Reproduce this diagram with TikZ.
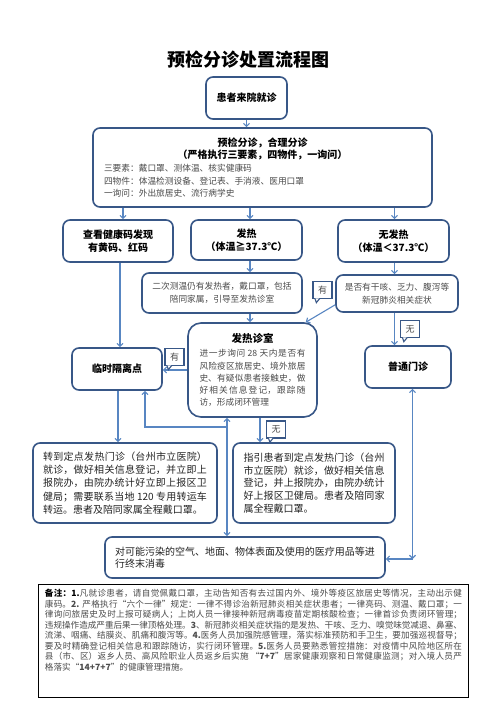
\documentclass[tikz,border=0pt]{standalone}
\usepackage{fontspec}
\setmainfont{Noto Sans CJK SC}
\usetikzlibrary{arrows.meta,calc}
\XeTeXlinebreaklocale "zh"
\XeTeXlinebreakskip=0pt plus 1.5pt minus 0.4pt
\definecolor{boxcol}{RGB}{56,87,135}
\definecolor{arrcol}{RGB}{88,134,194}
\definecolor{txtgray}{RGB}{75,75,75}
\definecolor{txtdark}{RGB}{35,35,35}
\newcommand\fbold{\fontsize{10}{12.6}\selectfont\bfseries}
\newcommand\fbody{\normalfont\fontsize{8.7}{12.6}\selectfont}
\newcommand\fmid{\fontsize{10}{13.3}\selectfont}
\tikzset{
 box/.style={draw=boxcol,line width=1.6pt,rounded corners=7pt,fill=white,inner sep=0pt,align=center},
 arr/.style={draw=arrcol,line width=1.1pt,-{Straight Barb[length=3pt,width=6pt]}},
 arrboth/.style={draw=arrcol,line width=1.1pt,{Straight Barb[length=3pt,width=6pt]}-{Straight Barb[length=3pt,width=6pt]}},
 ln/.style={draw=arrcol,line width=1.1pt},
 callout/.style={draw=boxcol,line width=1.3pt,fill=white,minimum width=19pt,minimum height=17pt,inner sep=0pt,font=\fontsize{9}{10}\selectfont,text=txtgray},
 tail/.style={fill=white,draw=boxcol,line width=1.1pt},
}
\newcommand\calltail[1]{\filldraw[tail] ($(#1.south west)+(2.5,-0.8)$) -- ($(#1.south west)+(4,3.5)$) -- ($(#1.south west)+(7.5,-0.8)$);}
\begin{document}
\begin{tikzpicture}[x=1pt,y=-1pt]
\fill[white] (0,0) rectangle (496,702);
\useasboundingbox (0,0) rectangle (496,702);

% x positions of connectors
\coordinate (xa) at (123,0);
\coordinate (xb) at (250,0);
\coordinate (xc) at (394.5,0);
\coordinate (xd) at (120,0);
\coordinate (xe) at (118,0);
\coordinate (xf) at (260,0);
\coordinate (xg) at (227,0);
\coordinate (xh) at (145,0);
\coordinate (xi) at (412.5,0);

\node[font=\fontsize{18}{20}\selectfont\bfseries] (title) at (248,60) {预检分诊处置流程图};

\node[box,minimum width=81pt,minimum height=42pt,font=\fbold] (A) at (246.5,98) {患者来院就诊};

\node[box,minimum width=339pt,minimum height=79pt,align=left,font=\fbold] (B) at (262.5,167.5)
 {\makebox[317pt][c]{\bfseries 预检分诊，合理分诊}\\
  \makebox[317pt][c]{\bfseries （严格执行三要素，四物件，一询问）}\\
  {\fbody\color{txtgray}三要素：戴口罩、测体温、核实健康码}\\
  {\fbody\color{txtgray}四物件：体温检测设备、登记表、手消液、医用口罩}\\
  {\fbody\color{txtgray}一询问：外出旅居史、流行病学史}};

\node[box,minimum width=110pt,minimum height=42pt,font=\fbold] (C) at (118,241) {查看健康码发现\\有黄码、红码};
\node[box,minimum width=111pt,minimum height=40pt,font=\fbold] (D) at (246.5,240) {发热\\（体温≧37.3℃）};
\node[box,minimum width=111pt,minimum height=42pt,font=\fbold] (E) at (393.5,241) {无发热\\（体温＜37.3℃）};

\node[box,minimum width=160pt,minimum height=40pt,font=\fbody,text=txtgray] (F) at (222,293) {二次测温仍有发热者，戴口罩，包括\\陪同家属，引导至发热诊室};
\node[box,minimum width=122pt,minimum height=37pt,font=\fbody,text=txtgray] (G) at (397,293.5) {是否有干咳、乏力、腹泻等\\新冠肺炎相关症状};

\node[box,rounded corners=13pt,minimum width=129pt,minimum height=94pt,text width=106pt,align=justify,font=\fontsize{8.7}{12.2}\selectfont,text=txtgray] (H) at (252.5,370)
 {\makebox[106pt][c]{\fontsize{10.5}{12}\selectfont\bfseries\color{black}发热诊室}\\[2pt]进一步询问 28 天内是否有\linebreak 风险疫区旅居史、境外旅居\linebreak 史、有疑似患者接触史，做\linebreak 好相关信息登记，跟踪随\linebreak 访，形成闭环管理};

\node[box,minimum width=90pt,minimum height=42pt,font=\fbold] (I) at (117,369) {临时隔离点};
\node[box,minimum width=86pt,minimum height=42pt,font=\fbold] (J) at (408,367) {普通门诊};

\node[box,minimum width=184pt,minimum height=80pt,text width=164pt,align=justify,font=\fmid,text=txtdark] (K) at (125,483)
 {转到定点发热门诊（台州市立医院）\linebreak 就诊，做好相关信息登记，并立即上\linebreak 报院办，由院办统计好立即上报区卫\linebreak 健局；需要联系当地 120 专用转运车\linebreak 转运。患者及陪同家属全程戴口罩。};

\node[box,minimum width=162pt,minimum height=80pt,text width=141pt,align=justify,font=\fontsize{10}{12.7}\selectfont,text=txtdark] (L) at (314,483)
 {指引患者到定点发热门诊（台州\linebreak 市立医院）就诊，做好相关信息\linebreak 登记，并上报院办，由院办统计\linebreak 好上报区卫健局。患者及陪同家\linebreak 属全程戴口罩。};

\node[box,minimum width=280pt,minimum height=41pt,align=left,font=\fontsize{10}{11.7}\selectfont,text=txtdark] (M) at (245,557.5)
 {对可能污染的空气、地面、物体表面及使用的医疗用品等进\\行终末消毒};

\node[draw=black,line width=1pt,anchor=north west,inner xsep=6.5pt,inner ysep=5pt,text=txtgray] (N) at (38,584)
 {\parbox[t][103pt][t]{417pt}{\fontsize{8.6}{10.5}\selectfont
 {\color{black}\textbf{备注：1.}}凡就诊患者，请自觉佩戴口罩，主动告知否有去过国内外、境外等疫区旅居史等情况，主动出示健\linebreak
 康码。\textbf{2.} 严格执行“六个一律”规定：一律不得诊治新冠肺炎相关症状患者；一律亮码、测温、戴口罩；一\linebreak
 律询问旅居史及时上报可疑病人；上岗人员一律接种新冠病毒疫苗定期核酸检查；一律首诊负责闭环管理；\linebreak
 违规操作造成严重后果一律顶格处理。\textbf{3}、新冠肺炎相关症状指的是发热、干咳、乏力、嗅觉味觉减退、鼻塞、\linebreak
 流涕、咽痛、结膜炎、肌痛和腹泻等。\textbf{4.}医务人员加强院感管理，落实标准预防和手卫生，要加强巡视督导；\linebreak
 要及时精确登记相关信息和跟踪随访，实行闭环管理。\textbf{5.}医务人员要熟悉管控措施：对疫情中风险地区所在\linebreak
 县（市、区）返乡人员、高风险职业人员返乡后实施 “\textbf{7+7}”居家健康观察和日常健康监测；对入境人员严\linebreak
 格落实“\textbf{14+7+7}”的健康管理措施。}};

% connectors
\draw[arr] (A) -- (A |- B.north);
\draw[arr] (B.south -| xa) -- (C.north -| xa);
\draw[arr] (B.south -| xb) -- (D.north -| xb);
\draw[arr] (B.south -| xc) -- (E.north -| xc);
\draw[arr] (D.south -| xb) -- (F.north -| xb);
\draw[arr] (F.south -| xb) -- (H.north -| xb);
\draw[arr] (E.south -| xc) -- (G.north -| xc);
\draw[arr] (G.south -| xc) -- (J.north -| xc);
\draw[arr] (C.south -| xd) -- (I.north -| xd);
\draw[arr] ($(G.south west)+(0,-8)$) -- ($(H.north east)+(-12,0)$);
\draw[arr] (H.west) -- (H.west -| I.east);
\draw[arr] (I.south -| xe) -- (K.north -| xe);
\draw[arr] (H.south -| xf) -- (L.north -| xf);
\coordinate (j1) at (227,427);
\draw[arrboth] (M.north -| xg) -- (H.south -| xg);
\draw[arr] (j1) -| (I.south -| xh);
\coordinate (cr) at (412.5,559);
\draw[arrboth] (J.south -| xi) -- (cr);
\draw[arr] (cr) -- (M.east |- cr);

% callouts
\node[callout] (c1) at (174.5,357) {有};
\calltail{c1}
\node[callout] (c2) at (322.5,290) {有};
\calltail{c2}
\node[callout] (c3) at (410,329) {无};
\calltail{c3}
\node[callout] (c4) at (276,429.5) {无};
\calltail{c4}
\end{tikzpicture}
\end{document}
